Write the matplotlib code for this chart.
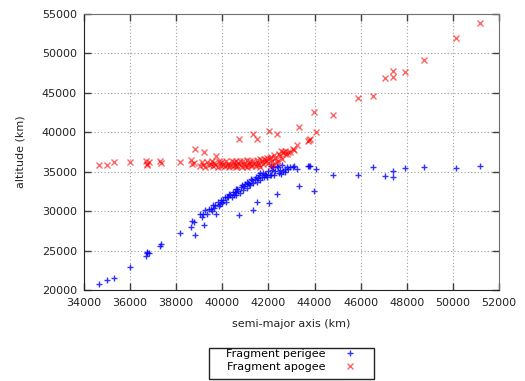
import numpy as np
import matplotlib
matplotlib.use('Agg')
import matplotlib.pyplot as plt
from matplotlib.patches import Rectangle

# Fragments : demi-grand axe (km), altitude du perigee et de l'apogee (km)
semi_major = [34650, 34990, 35300, 36000, 36680, 36720, 36750, 36800, 37300, 37360,
              38160, 38630, 38700, 38760, 38815, 39050, 39150, 39200, 39250, 39400,
              39500, 39600, 39700, 39710, 39800, 39900, 39950, 40050, 40100, 40200,
              40250, 40300, 40350, 40450, 40500, 40550, 40650, 40700, 40720, 40800,
              40850, 40950, 41000, 41100, 41150, 41250, 41300, 41340, 41400, 41450,
              41515, 41550, 41600, 41700, 41750, 41850, 41900, 42000, 42020, 42050,
              42150, 42200, 42300, 42380, 42400, 42500, 42600, 42650, 42700, 42720,
              42800, 42850, 42950, 43080, 43100, 43250, 43310, 43700, 43760, 43800,
              43960, 44050, 44790, 45880, 46530, 47050, 47400, 47400, 47920, 48745,
              50130, 51175,
              # nuage dense
              39100, 39350, 39550, 39650, 39850, 40000, 40150, 40400, 40600, 40750,
              40900, 41050, 41200, 41350, 41500, 41650, 41800, 41950, 42100, 42250,
              42450, 42550, 40580, 41050, 41650, 42100, 42350]
perigee = [20700, 21300, 21570, 22970, 24250, 24830, 24740, 24640, 25540, 25810,
           27290, 28010, 28700, 28620, 26990, 29640, 29640, 28180, 30090, 30240,
           30240, 30740, 30790, 29660, 31190, 30940, 31390, 31440, 31740, 31840,
           31740, 32190, 32090, 32390, 32040, 32440, 32840, 32590, 29530, 33040,
           33290, 33140, 33490, 33540, 33390, 34040, 33990, 30140, 34040, 34390,
           31120, 34240, 34640, 34340, 34790, 34740, 34540, 35140, 31080, 34640,
           35240, 35640, 35040, 32220, 35640, 35240, 35840, 35040, 35340, 35000,
           35640, 35400, 35640, 35560, 35740, 35350, 33150, 35740, 35760, 35740,
           32550, 35340, 34590, 34610, 35660, 34460, 34270, 35030, 35430, 35560,
           35500, 35770,
           29240, 29690, 29990, 30390, 30640, 30990, 31140, 31740, 32090, 32340,
           32740, 32890, 33290, 33540, 33740, 33940, 34290, 34340, 34540, 34640,
           34840, 34740, 32800, 33740, 34890, 35740, 35740]
apogee = [35850, 35850, 36270, 36270, 36350, 35850, 36000, 36200, 36300, 36150,
          36270, 36490, 35940, 36140, 37880, 35700, 35900, 37460, 35650, 35800,
          36000, 35700, 35850, 37000, 35650, 36100, 35750, 35900, 35700, 35800,
          36000, 35650, 35850, 35750, 36200, 35900, 35700, 36050, 39150, 35800,
          35650, 36000, 35750, 35900, 36150, 35700, 35850, 39780, 36000, 35750,
          39150, 36100, 35800, 36300, 35950, 36200, 36500, 36100, 40200, 36700,
          36300, 36000, 36800, 39780, 36400, 37000, 36600, 37500, 37300, 37680,
          37200, 37540, 37500, 37840, 37700, 38390, 40710, 38900, 39000, 39100,
          42610, 40000, 42230, 44390, 44640, 46880, 47770, 47010, 47650, 49170,
          52000, 53820,
          36200, 36250, 36350, 36150, 36300, 36250, 36400, 36300, 36350, 36400,
          36300, 36450, 36350, 36400, 36500, 36600, 36550, 36800, 36900, 37100,
          37300, 37600, 35600, 35600, 35650, 35700, 36200]

x_ticks = np.arange(34000, 52001, 2000)
y_ticks = np.arange(20000, 55001, 5000)

plt.rcParams['font.family'] = 'DejaVu Sans'
plt.rcParams['font.size'] = 8

fig = plt.figure(figsize=(5.25, 3.81), dpi=100)
ax = fig.add_axes([84 / 525, 1 - 290 / 381, 415 / 525, 276 / 381])

ax.plot(semi_major, perigee, linestyle='none', marker='+', markersize=5,
        markeredgewidth=1, color='#0000ff', alpha=0.8, label='Fragment perigee')
ax.plot(semi_major, apogee, linestyle='none', marker='x', markersize=4.5,
        markeredgewidth=1, color='#ff0000', alpha=0.6, label='Fragment apogee')

ax.set_xlim(34000, 52000)
ax.set_ylim(20000, 55000)
ax.set_xticks(x_ticks)
ax.set_yticks(y_ticks)
ax.grid(True, color='#a0a0a0', linestyle=(0, (1, 2)), linewidth=0.8)
ax.set_axisbelow(True)
ax.tick_params(direction='in', length=5, width=1, top=True, right=True,
               color='#404040', labelcolor='#222222')
ax.tick_params(axis='x', pad=6)
ax.tick_params(axis='y', pad=5)

for side in ['left', 'bottom']:
    ax.spines[side].set_color('#222222')
for side in ['top', 'right']:
    ax.spines[side].set_color('#707070')

ax.set_xlabel('semi-major axis (km)', color='#222222', labelpad=8)
ax.set_ylabel('altitude (km)', color='#222222', labelpad=12)

# Légende sous le graphique, texte puis symbole
handles, labels = ax.get_legend_handles_labels()
fig.legend(handles, labels, loc='upper left', bbox_to_anchor=(226 / 525, 1 - 349 / 381),
           frameon=False, markerfirst=False, borderpad=0, borderaxespad=0,
           handlelength=1.0, handletextpad=1.66, labelspacing=0.25)
fig.patches.append(Rectangle((209 / 525, 1 - 379 / 381), 165 / 525, 31 / 381,
                             transform=fig.transFigure, fill=False,
                             edgecolor='#222222', linewidth=1))

fig.savefig('out.png', dpi=100)
